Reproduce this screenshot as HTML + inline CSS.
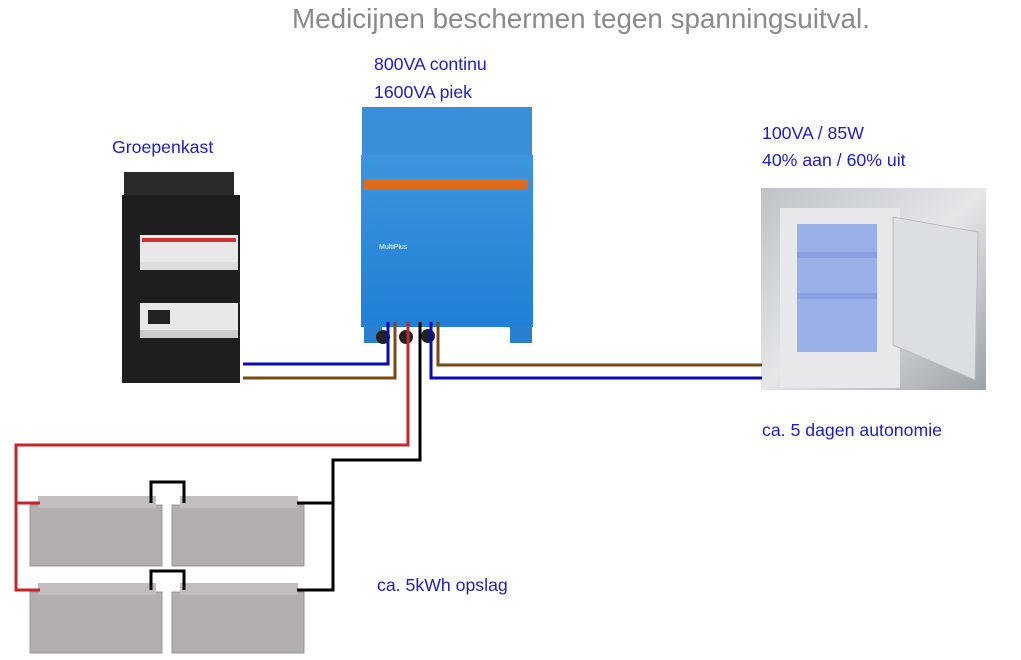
<!DOCTYPE html>
<html><head><meta charset="utf-8"><style>
body{margin:0;width:1021px;height:660px;background:#fff;overflow:hidden;font-family:"Liberation Sans",sans-serif;position:relative}
.t{position:absolute;color:#1c1ccc;font-size:17.7px;white-space:nowrap}
</style></head><body>
<div style="position:absolute;left:292px;top:3px;font-size:27.8px;color:#8a8a8a">Medicijnen beschermen tegen spanningsuitval.</div>
<div class="t" style="left:374px;top:54px">800VA continu</div>
<div class="t" style="left:374px;top:82px">1600VA piek</div>
<div class="t" style="left:112px;top:137px">Groepenkast</div>
<div class="t" style="left:762px;top:123px">100VA / 85W</div>
<div class="t" style="left:762px;top:150px">40% aan / 60% uit</div>
<div class="t" style="left:762px;top:420px">ca. 5 dagen autonomie</div>
<div class="t" style="left:377px;top:575px">ca. 5kWh opslag</div>
<svg width="1021" height="660" style="position:absolute;left:0;top:0">
<defs>
<linearGradient id="fb" x1="0" y1="0" x2="1" y2="1"><stop offset="0" stop-color="#bfc3c6"/><stop offset="0.5" stop-color="#e4e6e8"/><stop offset="1" stop-color="#9da2a6"/></linearGradient>
<linearGradient id="inv" x1="0" y1="0" x2="0" y2="1"><stop offset="0" stop-color="#3d94de"/><stop offset="1" stop-color="#1f80d6"/></linearGradient>
</defs>
<!-- groepenkast -->
<rect x="124" y="172" width="110" height="25" fill="#2a2a2a"/>
<rect x="122" y="195" width="118" height="188" fill="#1e1e1e"/>
<rect x="140" y="235" width="98" height="30" fill="#e8e8e8"/>
<rect x="142" y="238" width="94" height="4" fill="#c33"/>
<rect x="140" y="262" width="98" height="8" fill="#ddd"/>
<rect x="140" y="303" width="98" height="30" fill="#e8e8e8"/>
<rect x="148" y="310" width="22" height="14" fill="#222"/>
<rect x="140" y="330" width="98" height="8" fill="#ccc"/>
<!-- inverter -->
<rect x="362" y="107" width="170" height="50" fill="#3b8fda"/>
<rect x="361" y="155" width="172" height="172" fill="url(#inv)"/>
<rect x="364" y="179" width="164" height="11" fill="#e06a1c"/>
<rect x="364" y="325" width="18" height="18" fill="#2a7fd0"/>
<rect x="510" y="325" width="22" height="18" fill="#2a7fd0"/>
<circle cx="383" cy="337" r="7" fill="#222"/><circle cx="406" cy="337" r="7" fill="#222"/><circle cx="428" cy="336" r="7" fill="#222"/>
<text x="379" y="249" font-size="7" fill="#fff" font-family="Liberation Sans">MultiPlus</text>
<!-- fridge -->
<rect x="761" y="188" width="225" height="202" fill="url(#fb)"/>
<rect x="780" y="208" width="120" height="180" fill="#e8e8ea"/>
<rect x="797" y="224" width="80" height="128" fill="#9aaee8"/>
<rect x="797" y="252" width="80" height="6" fill="#8aa0e0"/>
<rect x="797" y="293" width="80" height="6" fill="#8aa0e0"/>
<polygon points="893,217 978,232 975,380 893,345" fill="#dcdfe2" stroke="#bbb"/>
<!-- batteries -->
<g fill="#b3aeb0" stroke="#9a9597">
<rect x="30" y="505" width="132" height="61"/><rect x="172" y="505" width="132" height="61"/>
<rect x="30" y="592" width="132" height="61"/><rect x="172" y="592" width="132" height="61"/>
</g>
<g fill="#c2bdbf">
<rect x="38" y="496" width="118" height="12"/><rect x="180" y="496" width="118" height="12"/>
<rect x="38" y="583" width="118" height="12"/><rect x="180" y="583" width="118" height="12"/>
</g>
<g fill="none" stroke-width="3">
<path d="M388 322V364H243" stroke="#0a0ab8"/>
<path d="M395 322V378H243" stroke="#7a4a14"/>
<path d="M438 322V365H762" stroke="#7a4a14"/>
<path d="M431 322V378H762" stroke="#0a0ab8"/>
<path d="M408 322V445H16V590H40M16 503H40" stroke="#c4262a"/>
<path d="M420 322V460H333V590H297M333 503H297" stroke="#000"/>
<path d="M151 503V482H184V503M151 590V571H184V590" stroke="#000"/>
</g>
</svg>
</body></html>
